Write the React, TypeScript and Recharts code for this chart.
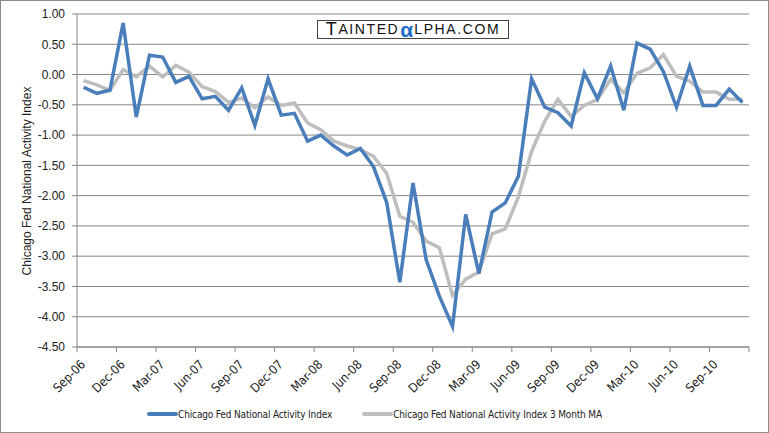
import React from "react"
import { LineChart, Line, XAxis, YAxis, CartesianGrid, Legend } from "recharts"

// monthly categories, Sep-06 .. Nov-10
const months = [
  "Sep-06", "Oct-06", "Nov-06", "Dec-06", "Jan-07", "Feb-07", "Mar-07", "Apr-07", "May-07",
  "Jun-07", "Jul-07", "Aug-07", "Sep-07", "Oct-07", "Nov-07", "Dec-07", "Jan-08", "Feb-08",
  "Mar-08", "Apr-08", "May-08", "Jun-08", "Jul-08", "Aug-08", "Sep-08", "Oct-08", "Nov-08",
  "Dec-08", "Jan-09", "Feb-09", "Mar-09", "Apr-09", "May-09", "Jun-09", "Jul-09", "Aug-09",
  "Sep-09", "Oct-09", "Nov-09", "Dec-09", "Jan-10", "Feb-10", "Mar-10", "Apr-10", "May-10",
  "Jun-10", "Jul-10", "Aug-10", "Sep-10", "Oct-10", "Nov-10",
]

const cfnai = [
  -0.21, -0.31, -0.26, 0.85, -0.7, 0.32, 0.29, -0.13, -0.03,
  -0.4, -0.36, -0.59, -0.22, -0.84, -0.07, -0.67, -0.64, -1.1,
  -1.0, -1.18, -1.33, -1.22, -1.52, -2.11, -3.43, -1.79, -3.06,
  -3.66, -4.16, -2.31, -3.29, -2.27, -2.12, -1.68, -0.07, -0.54,
  -0.63, -0.85, 0.03, -0.4, 0.14, -0.59, 0.52, 0.42, 0.05,
  -0.54, 0.14, -0.51, -0.51, -0.24, -0.46,
]

const cfnaiMA = [
  -0.1, -0.17, -0.26, 0.08, -0.04, 0.14, -0.04, 0.15, 0.04,
  -0.2, -0.28, -0.46, -0.39, -0.55, -0.37, -0.51, -0.47, -0.8,
  -0.91, -1.1, -1.18, -1.24, -1.35, -1.63, -2.34, -2.44, -2.75,
  -2.86, -3.65, -3.38, -3.26, -2.63, -2.55, -2.02, -1.27, -0.77,
  -0.41, -0.69, -0.51, -0.41, -0.08, -0.3, 0.02, 0.11, 0.33,
  -0.03, -0.11, -0.29, -0.29, -0.41, -0.41,
]

// labels on every third month boundary
const tickLabels = [
  "Sep-06", "Dec-06", "Mar-07", "Jun-07", "Sep-07", "Dec-07", "Mar-08", "Jun-08", "Sep-08",
  "Dec-08", "Mar-09", "Jun-09", "Sep-09", "Dec-09", "Mar-10", "Jun-10", "Sep-10",
]

const yTicks = [1, 0.5, 0, -0.5, -1, -1.5, -2, -2.5, -3, -3.5, -4, -4.5]

const BLUE = "#4A7EBB"
const GREY = "#BEBEBE"
const AXIS = "#868686"
const NARROW = "'Liberation Sans Narrow', 'DejaVu Sans Condensed', Arial, sans-serif"

// points sit in the middle of each month slot, like Excel's date axis
const data = months.map((m, i) => ({
  x: i + 0.5,
  month: m,
  cfnai: cfnai[i],
  ma: cfnaiMA[i],
}))

const xTicks = Array.from({ length: months.length / 3 + 1 }, (_, i) => i * 3)

function XTick(props: any) {
  const { x, y, payload } = props
  const label = tickLabels[payload.value / 3] ?? ""
  const tx = x + 6
  const ty = y + 8
  return (
    <text
      x={tx}
      y={ty}
      transform={`rotate(-45 ${tx} ${ty})`}
      textAnchor="end"
      dominantBaseline="central"
      fontSize={12.5}
      fontFamily={NARROW}
      fill="#222"
    >
      {label}
    </text>
  )
}

function YTitle() {
  return (
    <text
      x={27}
      y={181}
      transform="rotate(-90 27 181)"
      textAnchor="middle"
      dominantBaseline="central"
      fontSize={12}
      fontFamily="'Liberation Sans', Arial, sans-serif"
      fill="#222"
    >
      Chicago Fed National Activity Index
    </text>
  )
}

function LegendBox() {
  const items = [
    { name: "Chicago Fed National Activity Index", color: BLUE },
    { name: "Chicago Fed National Activity Index 3 Month MA", color: GREY },
  ]
  return (
    <div
      style={{
        display: "flex",
        justifyContent: "center",
        gap: 30,
        height: 30,
        alignItems: "center",
        fontFamily: NARROW,
        fontSize: 10,
        letterSpacing: -0.15,
        color: "#222",
      }}
    >
      {items.map((it) => (
        <div key={it.name} style={{ display: "flex", alignItems: "center" }}>
          <svg width={31} height={10}>
            <line x1={2} y1={5} x2={29} y2={5} stroke={it.color} strokeWidth={4} strokeLinecap="round" />
          </svg>
          <span>{it.name}</span>
        </div>
      ))}
    </div>
  )
}

export default function App() {
  return (
    <div style={{ position: "relative", width: 769, height: 433, background: "#fff" }}>
      <style>{"body{margin:0}"}</style>
      <LineChart
        width={769}
        height={433}
        data={data}
        margin={{ top: 14, right: 20, bottom: 0, left: 0 }}
      >
        <CartesianGrid vertical={false} stroke={AXIS} strokeWidth={1} />
        <XAxis
          type="number"
          dataKey="x"
          domain={[0, 51]}
          ticks={xTicks}
          interval={0}
          height={56}
          tickSize={5}
          stroke={AXIS}
          tick={<XTick />}
          allowDataOverflow
        />
        <YAxis
          domain={[-4.5, 1]}
          ticks={yTicks}
          interval={0}
          width={77}
          tickSize={5}
          tickMargin={7}
          stroke={AXIS}
          tickFormatter={(v: number) => v.toFixed(2)}
          tick={{ fill: "#222", fontSize: 12, fontFamily: "'Liberation Sans', Arial, sans-serif" }}
          label={<YTitle />}
          allowDataOverflow
        />
        <Legend verticalAlign="bottom" height={30} content={<LegendBox />} wrapperStyle={{ bottom: 4 }} />
        <Line
          type="linear"
          dataKey="ma"
          stroke={GREY}
          strokeWidth={3.5}
          dot={false}
          isAnimationActive={false}
        />
        <Line
          type="linear"
          dataKey="cfnai"
          stroke={BLUE}
          strokeWidth={3.5}
          dot={false}
          isAnimationActive={false}
        />
      </LineChart>
      {/* watermark */}
      <div
        style={{
          position: "absolute",
          left: 317,
          top: 20,
          width: 190,
          height: 17,
          border: "1px solid #444",
          background: "#fff",
          display: "flex",
          alignItems: "center",
          justifyContent: "center",
          fontFamily: "'Liberation Sans', Arial, sans-serif",
          color: "#111",
          letterSpacing: 1.6,
          lineHeight: "17px",
        }}
      >
        <span style={{ fontSize: 18 }}>T</span>
        <span style={{ fontSize: 14 }}>AINTED</span>
        <span style={{ fontSize: 21, color: "#1a6cc4", fontWeight: 700, letterSpacing: 0, margin: "0 1px" }}>α</span>
        <span style={{ fontSize: 14 }}>LPHA.COM</span>
      </div>
      <div
        style={{
          position: "absolute",
          inset: 0,
          border: "1px solid #8c8c8c",
          pointerEvents: "none",
        }}
      />
    </div>
  )
}
